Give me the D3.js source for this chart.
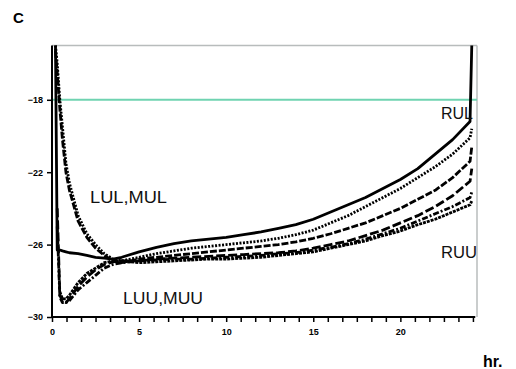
<!DOCTYPE html>
<html><head><meta charset="utf-8">
<script src="https://cdn.jsdelivr.net/npm/d3@7"></script>
<style>body{margin:0;background:#fff}svg{display:block}</style>
</head><body>
<script>
// ---- data ----
const hours = [0.2, 0.3, 0.45, 0.6, 0.8, 1, 1.5, 2, 2.5, 3, 3.5, 4, 5, 6, 7, 8, 9, 10, 11, 12, 13, 14, 15, 16, 17, 18, 19, 20, 21, 22, 23, 24, 24.1];
const seriesE = [-15, -26.3, -26.3, -26.35, -26.4, -26.45, -26.5, -26.6, -26.7, -26.75, -26.8, -26.7, -26.4, -26.15, -25.95, -25.8, -25.7, -25.6, -25.45, -25.3, -25.1, -24.9, -24.6, -24.2, -23.8, -23.4, -22.9, -22.4, -21.8, -21.0, -20.2, -19.2, -15];
const seriesA = [-15, -16, -18, -19.5, -21.5, -22.6, -24.4, -25.4, -26.0, -26.5, -26.8, -26.9, -26.7, -26.5, -26.35, -26.2, -26.1, -26.0, -25.9, -25.8, -25.65, -25.45, -25.2, -24.8, -24.4, -23.9, -23.4, -22.9, -22.3, -21.7, -21.0, -20.1, -19.6];
const seriesB = [-15.3, -16.5, -18.5, -20.2, -22, -23, -24.7, -25.6, -26.2, -26.6, -26.9, -27.0, -26.8, -26.7, -26.6, -26.5, -26.4, -26.3, -26.2, -26.1, -26.0, -25.85, -25.65, -25.4, -25.1, -24.8, -24.4, -24.0, -23.5, -23.0, -22.3, -21.4, -20.6];
const seriesC = [null, -24, -28.8, -29.1, -29.2, -29.0, -28.3, -27.8, -27.4, -27.1, -26.95, -26.9, -26.9, -26.8, -26.75, -26.7, -26.65, -26.6, -26.55, -26.5, -26.45, -26.35, -26.2, -26.0, -25.8, -25.5, -25.2, -24.8, -24.4, -23.9, -23.3, -22.5, -21.8];
const seriesD = [null, -25, -28.9, -29.2, -29.2, -29.1, -28.5, -28.1, -27.7, -27.3, -27.1, -27.0, -26.9, -26.85, -26.8, -26.8, -26.75, -26.7, -26.65, -26.6, -26.5, -26.45, -26.3, -26.15, -25.95, -25.7, -25.4, -25.1, -24.7, -24.3, -23.9, -23.4, -23.1];
const seriesF = [null, null, -28.6, -29.0, -29.0, -28.8, -28.1, -27.6, -27.3, -27.0, -26.9, -26.9, -27.0, -26.95, -26.9, -26.85, -26.8, -26.8, -26.75, -26.7, -26.6, -26.5, -26.4, -26.2, -26.0, -25.8, -25.5, -25.25, -24.9, -24.6, -24.2, -23.8, -23.6];
const yTicks = [-18, -22, -26, -30];
const xTicks = [0, 5, 10, 15, 20];
const minorStep = 5 / 6;
const labels = [
  {text: "RUL", x: 441, y: 119, w: 32},
  {text: "LUL,MUL", x: 90, y: 203, w: 77},
  {text: "LUU,MUU", x: 123, y: 304, w: 80},
  {text: "RUU", x: 441, y: 258, w: 36}
];

// ---- chart ----
const W = 516, H = 369;
const svg = d3.select("body").append("svg").attr("width", W).attr("height", H);
const x = d3.scaleLinear().domain([0, 24.4]).range([52, 477]);
const y = d3.scaleLinear().domain([-30, -15]).range([317, 45.5]);

// frame (grey top and right)
svg.append("line").attr("x1", 52).attr("x2", 477).attr("y1", y(-15)).attr("y2", y(-15))
  .attr("stroke", "#b8bcbc").attr("stroke-width", 1.5);
svg.append("line").attr("x1", 477).attr("x2", 477).attr("y1", y(-15)).attr("y2", y(-30))
  .attr("stroke", "#b8bcbc").attr("stroke-width", 1.5);

// teal reference line
svg.append("line").attr("x1", x(0)).attr("x2", 477).attr("y1", y(-18)).attr("y2", y(-18))
  .attr("stroke", "#6fd3b1").attr("stroke-width", 2);

// series
const defs = [
  {v: seriesE, dash: null},
  {v: seriesA, dash: "2,1.5"},
  {v: seriesB, dash: "7,2"},
  {v: seriesC, dash: "9,3"},
  {v: seriesD, dash: "6,2,2,2"},
  {v: seriesF, dash: "3,1"}
];
const line = d3.line().defined(d => d[1] !== null).x(d => x(d[0])).y(d => y(d[1]));
defs.forEach(s => {
  svg.append("path")
    .attr("d", line(hours.map((h, i) => [h, s.v[i]])))
    .attr("fill", "none").attr("stroke", "#000").attr("stroke-width", 2.8)
    .attr("stroke-dasharray", s.dash)
    .attr("stroke-linejoin", "round");
});

// axes
const yAxis = d3.axisLeft(y).tickValues(yTicks).tickSize(5).tickPadding(4).tickFormat(d3.format("d"));
const gy = svg.append("g").attr("transform", "translate(52,0)").call(yAxis);
gy.select(".domain").attr("stroke-width", 2).attr("d", `M0,${y(-15)}V${y(-30)}`);
gy.selectAll(".tick line").attr("stroke-width", 1.5);
gy.selectAll("text").attr("font-family", "Liberation Sans, Arial, sans-serif").attr("font-size", 9).attr("font-weight", "bold").attr("fill", "#000");

const minor = d3.range(0, 24.3, minorStep);
const xAxisMinor = d3.axisBottom(x).tickValues(minor).tickSize(5).tickFormat("");
const gxm = svg.append("g").attr("transform", `translate(0,${y(-30)})`).call(xAxisMinor);
gxm.select(".domain").attr("stroke-width", 2).attr("d", `M52,0H${x(24.3)}`);
gxm.selectAll(".tick line").attr("stroke-width", 1.5);

const xAxis = d3.axisBottom(x).tickValues(xTicks).tickSize(0).tickPadding(12).tickFormat(d3.format("d"));
const gx = svg.append("g").attr("transform", `translate(0,${y(-30)})`).call(xAxis);
gx.select(".domain").remove();
gx.selectAll("text").attr("font-family", "Liberation Sans, Arial, sans-serif").attr("font-size", 9).attr("font-weight", "bold").attr("fill", "#000");

// labels
labels.forEach(l => {
  svg.append("text").attr("x", l.x).attr("y", l.y).text(l.text)
    .attr("font-family", "Liberation Sans, Arial, sans-serif").attr("font-size", 16).attr("fill", "#111")
    .attr("textLength", l.w).attr("lengthAdjust", "spacingAndGlyphs");
});
svg.append("text").attr("x", 13).attr("y", 23).text("C")
  .attr("font-family", "Liberation Sans, Arial, sans-serif").attr("font-size", 15).attr("font-weight", "bold");
svg.append("text").attr("x", 483).attr("y", 367).text("hr.")
  .attr("font-family", "Liberation Sans, Arial, sans-serif").attr("font-size", 16).attr("font-weight", "bold");
</script>
</body></html>
